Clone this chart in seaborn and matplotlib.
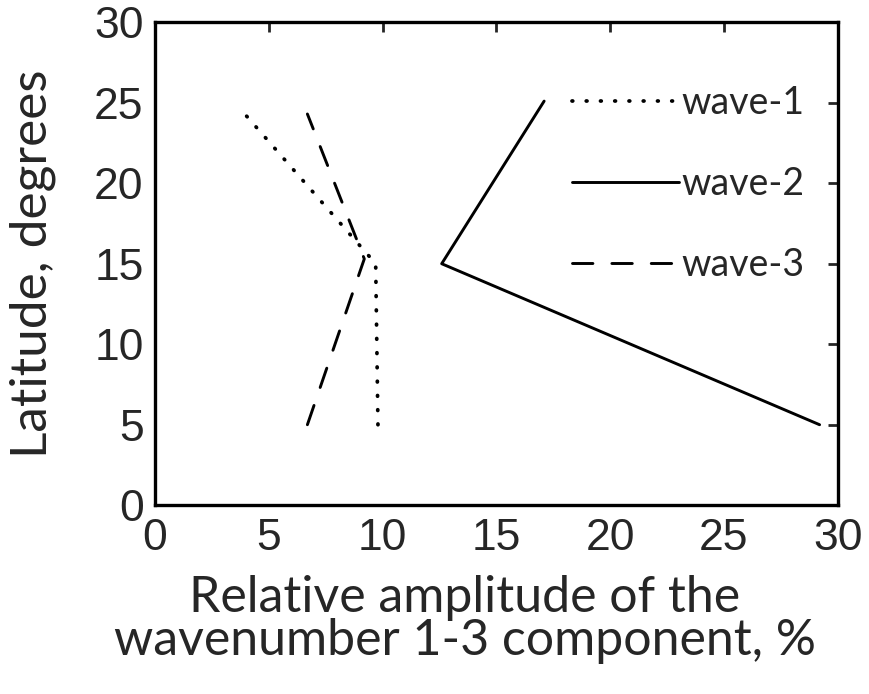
import pandas as pd
import matplotlib.pyplot as plt
import seaborn as sns

# Values
wave1_amp = [9.8, 9.7, 3.7]
wave1_lat = [5.0, 15.0, 24.7]
wave2_amp = [29.2, 12.6, 17.1]
wave2_lat = [5.0, 15.0, 25.1]
wave3_amp = [6.7, 9.2, 6.7]
wave3_lat = [5.0, 15.3, 24.3]

x_ticks = [0, 5, 10, 15, 20, 25, 30]
y_ticks = [0, 5, 10, 15, 20, 25, 30]

sns.set_style('white')
plt.rcParams['font.family'] = ['Liberation Sans', 'DejaVu Sans']
label_font = ['Lato', 'DejaVu Sans']

fig = plt.figure(figsize=(8.7, 6.94), dpi=100)
ax = fig.add_axes([0.178, 0.272, 0.785, 0.696])

waves = [
    ('wave-1', wave1_amp, wave1_lat, (0, (0.2, 3.6)), 2.7),
    ('wave-2', wave2_amp, wave2_lat, '-', 2.1),
    ('wave-3', wave3_amp, wave3_lat, (0, (7, 6.5)), 2.1),
]
for name, amp, lat, ls, lw in waves:
    df = pd.DataFrame({'amp': amp, 'lat': lat})
    sns.lineplot(data=df, x='amp', y='lat', sort=False, estimator=None, ax=ax,
                 color='black', linewidth=lw, linestyle=ls, label=name,
                 dash_capstyle='round')

ax.set_xlim(0, 30)
ax.set_ylim(0, 30)
ax.set_xticks(x_ticks)
ax.set_yticks(y_ticks)
ax.tick_params(direction='in', length=7, width=2, top=True, right=True,
               labelsize=32)
ax.tick_params(axis='x', pad=9)
ax.tick_params(axis='y', pad=8)
for s in ax.spines.values():
    s.set_linewidth(2.4)
    s.set_color('black')

ax.set_xlabel('Relative amplitude of the\nwavenumber 1-3 component, %',
              fontsize=36, family=label_font, linespacing=0.92)
ax.xaxis.set_label_coords(0.454, -0.145)
ax.xaxis.label.set_va('top')
ax.set_ylabel('Latitude, degrees', fontsize=37, family=label_font)
ax.yaxis.set_label_coords(-0.145, 0.5)

leg = ax.legend(loc='upper right', frameon=False, handlelength=2.85,
                handletextpad=0.05, labelspacing=1.2, bbox_to_anchor=(1.0, 0.94),
                prop={'family': label_font, 'size': 27})

fig.savefig('out.png', dpi=100)
